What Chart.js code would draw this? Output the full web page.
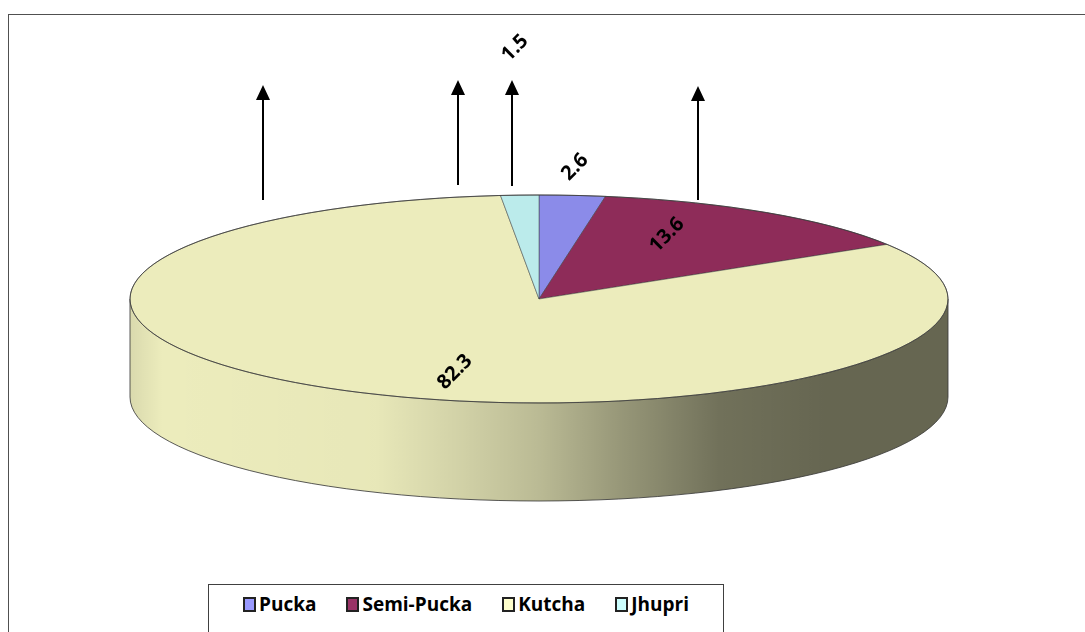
<!DOCTYPE html>
<html><head><meta charset="utf-8">
<script src="https://cdn.jsdelivr.net/npm/chart.js@4/dist/chart.umd.min.js"></script>
<style>
html,body{margin:0;padding:0;background:#fff;}
#wrap{position:relative;width:1085px;height:632px;overflow:hidden;background:#fff;}
#frame{position:absolute;left:8px;top:14px;width:1200px;height:800px;border:1px solid #505050;}
#c{position:absolute;left:0;top:0;}
#legend{position:absolute;left:208px;top:584px;width:514px;height:80px;border:1px solid #404040;background:#fff;
  font-family:'Open Sans',sans-serif;font-weight:700;font-size:19px;color:#000;}
#legend .row{display:flex;justify-content:center;gap:30px;margin-top:6px;}
#legend .it{display:flex;align-items:center;}
#legend .mk{width:9px;height:11px;border:2px solid #222;margin-right:3px;}
</style></head>
<body><div id="wrap"><div id="frame"></div><canvas id="c" width="1085" height="632"></canvas><div id="legend"><div class="row" id="lrow"></div></div></div>
<script>
const categories = ["Pucka", "Semi-Pucka", "Kutcha", "Jhupri"];
const shares = [2.6, 13.6, 82.3, 1.5];
const valueLabels = ["2.6", "13.6", "82.3", "1.5"];

// styles
const faceColors = ["#8b8be9", "#8e2c59", "#ececbc", "#bbebeb"];
const legendColors = ["#9999ff", "#993366", "#ffffcc", "#ccffff"];

// layout of the 3-D pie
const CX = 539, CY = 299, RX = 409, RY = 104, DEPTH = 98;
const labelOffsets = [[36,-132],[128,-64],[-84,73],[-24,-251]];
const arrowsLayout = [[263,85,200],[458,80,185],[512,80,186],[698,86,200]];

// HTML legend
const lrow = document.getElementById('lrow');
categories.forEach((c,i)=>{
  const it = document.createElement('div'); it.className='it';
  const mk = document.createElement('div'); mk.className='mk'; mk.style.background=legendColors[i];
  const tx = document.createElement('span'); tx.textContent=c;
  it.appendChild(mk); it.appendChild(tx); lrow.appendChild(it);
});

function ellPt(a, dy){ return [CX + RX*Math.cos(a), CY + (dy||0) + RY*Math.sin(a)]; }

const pie3d = {
  id: 'pie3d',
  beforeDatasetsDraw(chart){
    const ctx = chart.ctx;
    const meta = chart.getDatasetMeta(0);
    ctx.save();
    meta.data.forEach((arc,i)=>{
      const s = arc.startAngle, e = arc.endAngle;
      for (let k=-1;k<=1;k++){
        const base = 2*Math.PI*k;
        const lo = Math.max(s, base), hi = Math.min(e, base+Math.PI);
        if (hi > lo){
          const a0 = lo-base, a1 = hi-base;
          const path = new Path2D();
          path.ellipse(CX, CY, RX, RY, 0, a0, a1);
          const p = ellPt(a1, DEPTH);
          path.lineTo(p[0], p[1]);
          path.ellipse(CX, CY+DEPTH, RX, RY, 0, a1, a0, true);
          path.closePath();
          ctx.fillStyle = faceColors[i];
          ctx.fill(path);
          const g = ctx.createLinearGradient(CX-RX, 0, CX+RX, 0);
          g.addColorStop(0, 'rgba(0,0,0,0.08)');
          g.addColorStop(0.04, 'rgba(0,0,0,0.0)');
          g.addColorStop(0.30, 'rgba(0,0,0,0.02)');
          g.addColorStop(0.40, 'rgba(0,0,0,0.11)');
          g.addColorStop(0.50, 'rgba(0,0,0,0.21)');
          g.addColorStop(0.60, 'rgba(0,0,0,0.36)');
          g.addColorStop(0.72, 'rgba(0,0,0,0.52)');
          g.addColorStop(0.85, 'rgba(0,0,0,0.57)');
          g.addColorStop(1, 'rgba(0,0,0,0.57)');
          ctx.fillStyle = g;
          ctx.fill(path);
        }
      }
    });
    ctx.strokeStyle = 'rgba(60,60,60,0.85)';
    ctx.lineWidth = 1;
    ctx.beginPath();
    ctx.moveTo(CX-RX, CY); ctx.lineTo(CX-RX, CY+DEPTH);
    ctx.ellipse(CX, CY+DEPTH, RX, RY, 0, Math.PI, 0, true);
    ctx.lineTo(CX+RX, CY);
    ctx.stroke();
    ctx.restore();
    const a = meta.data[0];
    ctx.save();
    ctx.translate(CX, CY);
    ctx.scale(1, RY/RX);
    ctx.translate(-a.x, -a.y);
  },
  afterDatasetsDraw(chart){
    const ctx = chart.ctx;
    ctx.restore();
    const meta = chart.getDatasetMeta(0);
    ctx.save();
    ctx.strokeStyle = 'rgba(60,60,60,0.85)';
    ctx.lineWidth = 1;
    ctx.beginPath();
    ctx.ellipse(CX, CY, RX, RY, 0, 0, 2*Math.PI);
    ctx.stroke();
    ctx.strokeStyle = '#000'; ctx.fillStyle = '#000'; ctx.lineWidth = 2;
    arrowsLayout.forEach(([x,tip,base])=>{
      ctx.beginPath(); ctx.moveTo(x, base); ctx.lineTo(x, tip+12); ctx.stroke();
      ctx.beginPath(); ctx.moveTo(x, tip); ctx.lineTo(x-7, tip+15); ctx.lineTo(x+7, tip+15); ctx.closePath(); ctx.fill();
    });
    ctx.font = "700 20px 'Open Sans'";
    ctx.textAlign = 'center'; ctx.textBaseline = 'middle';
    meta.data.forEach((arc,i)=>{
      const [dx,dy] = labelOffsets[i];
      ctx.save();
      ctx.translate(CX+dx, CY+dy);
      ctx.rotate(-Math.PI/4);
      ctx.fillStyle = '#000';
      ctx.fillText(valueLabels[i], 0, 0);
      ctx.restore();
    });
    ctx.restore();
  }
};

new Chart(document.getElementById('c'), {
  type: 'pie',
  data: {
    labels: categories,
    datasets: [{
      data: shares,
      backgroundColor: faceColors,
      borderColor: 'rgba(60,60,60,0.8)',
      borderWidth: 1,
      radius: RX,
      clip: false
    }]
  },
  options: {
    responsive: false,
    animation: false,
    events: [],
    plugins: { legend: { display: false }, tooltip: { enabled: false } }
  },
  plugins: [pie3d]
});
</script>
</body></html>
